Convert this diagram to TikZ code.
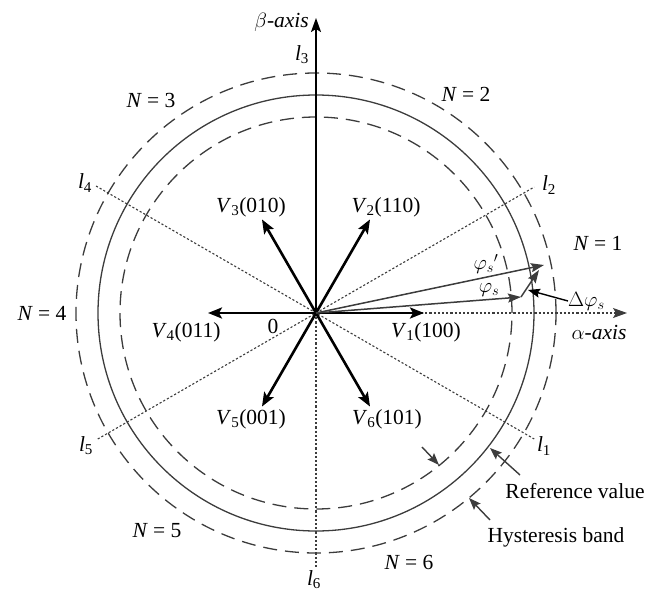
\documentclass[tikz,border=0pt]{standalone}
\usepackage{fontspec}
\setmainfont{Liberation Serif}
\usetikzlibrary{arrows.meta,calc}
\definecolor{gray30}{HTML}{3C3C3C}
\tikzset{
 refcirc/.style={draw=gray30, line width=1.3pt},
 bandcirc/.style={draw=gray30, line width=1.3pt, dash pattern=on 14pt off 8pt},
 sectorline/.style={draw=gray30, line width=1.1pt, dash pattern=on 2.2pt off 2pt},
 varrow/.style={draw=black, line width=2.6pt, -{Stealth[length=14pt,width=11pt,inset=3pt]}},
 axisarrow/.style={draw=black, line width=1.8pt, -{Stealth[length=14pt,width=10pt,inset=3pt]}},
 alphaarrow/.style={sectorline, -{Stealth[length=14pt,width=10pt,inset=3pt]}},
 fluxarrow/.style={draw=gray30, line width=1.5pt, -{Stealth[length=13pt,width=9pt,inset=2pt]}},
 pointer/.style={draw=gray30, line width=1.4pt, -{Stealth[length=12pt,width=9pt,inset=2pt]}},
 blackpointer/.style={draw=black, line width=1.4pt, -{Stealth[length=12pt,width=9pt,inset=2pt]}},
 lbl/.style={font=\fontsize{21.5}{25}\selectfont, inner sep=0pt},
}
\newcommand{\lv}[2]{\textit{#1}\textsubscript{#2}}
\begin{document}
\begin{tikzpicture}[x=1pt,y=-1pt]
\useasboundingbox (0,0) rectangle (665,592);
\coordinate (O) at (316,313);
% circles
\draw[bandcirc] (O) circle[radius=196pt];
\draw[refcirc] (O) circle[radius=218pt];
\draw[bandcirc] (O) circle[radius=240pt];
% sector lines
\coordinate (e2) at ($(O)+(30:252pt)$);
\coordinate (e5) at ($(O)+(210:252pt)$);
\coordinate (e4) at ($(O)+(150:254pt)$);
\coordinate (e1) at ($(O)+(-30:252pt)$);
\coordinate (e6) at ($(O)+(270:254pt)$);
\coordinate (betatip) at (316,18);
\coordinate (alphatip) at (627,313);
\draw[sectorline] (e5) -- (e2);
\draw[sectorline] (e4) -- (e1);
\draw[sectorline] (O) -- (e6);
\draw[alphaarrow] (O) -- (alphatip);
\draw[axisarrow] (O) -- (betatip);
% voltage vectors
\foreach \a/\n in {0/v1,60/v2,120/v3,180/v4,240/v5,300/v6}{
  \coordinate (\n) at ($(O)+(\a:108pt)$);
  \draw[varrow] (O) -- (\n);
}
% flux vectors
\coordinate (phis) at (521,297);
\coordinate (phisp) at (544,265);
\coordinate (dtip) at (539,270);
\draw[fluxarrow] (O) -- (phis);
\draw[fluxarrow] (O) -- (phisp);
\draw[fluxarrow] (phis) -- (dtip);
% labels
\node[lbl, anchor=east] (beta) at (309,22) {$\beta$\textit{-axis}};
\node[lbl] (l3) at (302,55) {\lv{l}{3}};
\node[lbl] (l2) at (549,185) {\lv{l}{2}};
\node[lbl] (l4) at (85,183) {\lv{l}{4}};
\node[lbl] (l1) at (544,446) {\lv{l}{1}};
\node[lbl] (l5) at (86,446) {\lv{l}{5}};
\node[lbl] (l6) at (314,580) {\lv{l}{6}};
\node[lbl] (n1) at (598,243) {\textit{N} = 1};
\node[lbl] (n2) at (466,94) {\textit{N} = 2};
\node[lbl] (n3) at (151,100) {\textit{N} = 3};
\node[lbl] (n4) at (42,313) {\textit{N} = 4};
\node[lbl] (n5) at (157,531) {\textit{N} = 5};
\node[lbl] (n6) at (409,562) {\textit{N} = 6};
\node[lbl] (V1) at (426,332) {\lv{V}{1}(100)};
\node[lbl] (V2) at (386,207) {\lv{V}{2}(110)};
\node[lbl] (V3) at (251,207) {\lv{V}{3}(010)};
\node[lbl] (V4) at (186,332) {\lv{V}{4}(011)};
\node[lbl] (V5) at (251,419) {\lv{V}{5}(001)};
\node[lbl] (V6) at (387,419) {\lv{V}{6}(101)};
\node[lbl] (zero) at (273,326) {0};
\node[lbl] (alpha) at (599,332) {$\alpha$\textit{-axis}};
\node[lbl] (phisl) at (489,290) {$\varphi_s$};
\node[lbl] (phispl) at (486,264) {$\varphi_s{}'$};
\node[lbl, anchor=west] (dphi) at (568,301) {$\Delta\varphi_s$};
\node[lbl] (refv) at (575,491) {Reference value};
\node[lbl] (hyst) at (556,537) {Hysteresis band};
% pointers
\coordinate (dptip) at (528,290);
\draw[blackpointer] (dphi.west) -- (dptip);
\coordinate (reftip) at (490,448);
\coordinate (reftail) at (520,475);
\draw[pointer] (reftail) -- (reftip);
\coordinate (hysttip) at (469,498);
\coordinate (hysttail) at (490,520);
\draw[pointer] (hysttail) -- (hysttip);
\coordinate (intip) at (439,465);
\coordinate (intail) at (422,447);
\draw[pointer] (intail) -- (intip);
\end{tikzpicture}
\end{document}
